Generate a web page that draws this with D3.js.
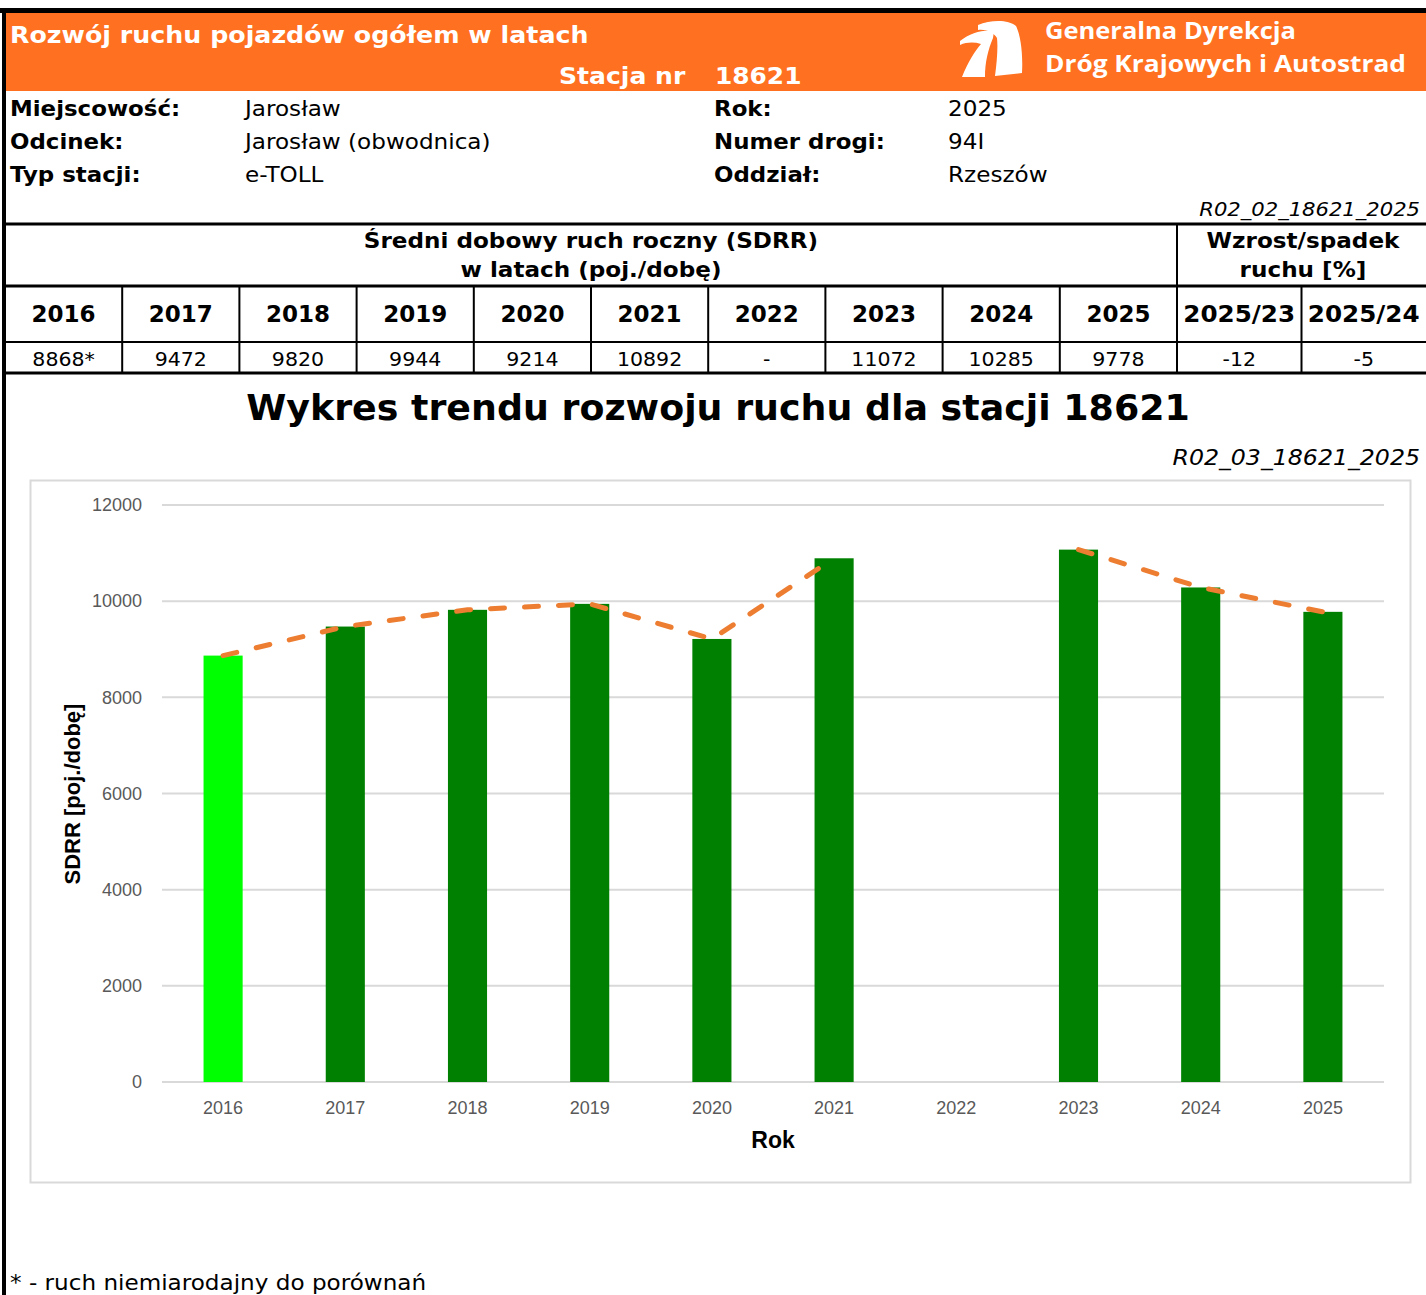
<!DOCTYPE html>
<html lang="pl">
<head>
<meta charset="utf-8">
<title>Rozwój ruchu 18621</title>
<script src="https://d3js.org/d3.v7.min.js"></script>
<style>
  body { margin: 0; background: white; }
  text { font-family: 'DejaVu Sans', Verdana, sans-serif; }
  .hdr { fill: white; font-weight: bold; }
  .logo-txt { font-family: 'Open Sans', 'Noto Sans', sans-serif; font-weight: bold; fill: white; }
  .lbl { font-weight: bold; }
  .ax text { font-family: 'Liberation Sans Narrow', 'Liberation Sans', sans-serif; fill: #595959; }
  .axtitle { font-family: 'Liberation Sans', Arial, sans-serif; font-weight: bold; }
</style>
</head>
<body>
<div id="container"></div>
<script>
// ---- data ----
var years = ["2016", "2017", "2018", "2019", "2020", "2021", "2022", "2023", "2024", "2025"];
var sdrr = [8868, 9472, 9820, 9944, 9214, 10892, null, 11072, 10285, 9778];
var sdrrLabels = ["8868*", "9472", "9820", "9944", "9214", "10892", "-", "11072", "10285", "9778"];
var unreliable = ["2016"];
var changeCols = ["2025/23", "2025/24"];
var changeVals = ["-12", "-5"];
var yTicks = [0, 2000, 4000, 6000, 8000, 10000, 12000];
var infoLeft = [["Miejscowość:", "Jarosław"], ["Odcinek:", "Jarosław (obwodnica)"], ["Typ stacji:", "e-TOLL"]];
var infoRight = [["Rok:", "2025"], ["Numer drogi:", "94I"], ["Oddział:", "Rzeszów"]];

var W = 1426, H = 1295;
var svg = d3.select("#container").append("svg")
  .attr("width", W).attr("height", H);

// DejaVu is a bit narrower than the Verdana of the original, stretch it a little
function widen(sel, f) {
  sel.each(function () {
    var l = this.getComputedTextLength();
    d3.select(this).attr("textLength", l * f).attr("lengthAdjust", "spacingAndGlyphs");
  });
  return sel;
}

// ---------------------------//
//       HEADER               //
// ---------------------------//
svg.append("rect").attr("x", 0).attr("y", 8).attr("width", W).attr("height", 5).attr("fill", "black");
svg.append("rect").attr("x", 5).attr("y", 13).attr("width", W - 5).attr("height", 78).attr("fill", "#FF7020");
svg.append("rect").attr("x", 2).attr("y", 8).attr("width", 4).attr("height", H - 8).attr("fill", "black");

widen(svg.append("text").attr("class", "hdr").attr("x", 10).attr("y", 43)
  .style("font-size", "23px").text("Rozwój ruchu pojazdów ogółem w latach"), 1.1);
widen(svg.append("text").attr("class", "hdr").attr("x", 559).attr("y", 84)
  .style("font-size", "23px").text("Stacja nr"), 1.09);
widen(svg.append("text").attr("class", "hdr").attr("x", 715).attr("y", 84)
  .style("font-size", "23px").text("18621"), 1.08);

// logo
var logo = svg.append("g").attr("fill", "white");
logo.append("path").attr("d", "M960,41 C970,33 984,29 994,31 L993,38 C988,50 985,62 985,77 L962,77 C968,62 975,51 981,44 C974,42 967,42 960,45 Z");
logo.append("path").attr("d", "M978,25 C990,20 1008,19 1016,26 C1021,36 1023,55 1022,73 L995,76 C997,61 998,47 997,38 C993,32 986,29 978,30 Z");
svg.append("text").attr("class", "logo-txt").attr("x", 1045).attr("y", 39)
  .attr("textLength", 251).attr("lengthAdjust", "spacingAndGlyphs")
  .style("font-size", "24px").text("Generalna Dyrekcja");
svg.append("text").attr("class", "logo-txt").attr("x", 1045).attr("y", 72)
  .attr("textLength", 361).attr("lengthAdjust", "spacingAndGlyphs")
  .style("font-size", "24px").text("Dróg Krajowych i Autostrad");

// info rows
infoLeft.forEach(function (r, i) {
  widen(svg.append("text").attr("class", "lbl").attr("x", 10).attr("y", 116 + i * 33).style("font-size", "21px").text(r[0]), 1.09);
  widen(svg.append("text").attr("x", 245).attr("y", 116 + i * 33).style("font-size", "21px").text(r[1]), 1.1);
});
infoRight.forEach(function (r, i) {
  widen(svg.append("text").attr("class", "lbl").attr("x", 714).attr("y", 116 + i * 33).style("font-size", "21px").text(r[0]), 1.09);
  widen(svg.append("text").attr("x", 948).attr("y", 116 + i * 33).style("font-size", "21px").text(r[1]), 1.1);
});
widen(svg.append("text").attr("x", 1420).attr("y", 216).attr("text-anchor", "end")
  .style("font-size", "19px").style("font-style", "italic").text("R02_02_18621_2025"), 1.11);

// ---------------------------//
//       TABLE                //
// ---------------------------//
var colX = d3.scaleBand().domain(years).range([5, 1177]);
var chX = d3.scaleBand().domain(changeCols).range([1177, 1426]);
var tbl = svg.append("g");
[[224, 3], [286, 3], [342, 2], [373, 3]].forEach(function (l) {
  tbl.append("rect").attr("x", 5).attr("y", l[0] - l[1] / 2).attr("width", W - 5).attr("height", l[1]).attr("fill", "black");
});
tbl.append("rect").attr("x", 1176).attr("y", 224).attr("width", 2).attr("height", 149).attr("fill", "black");
years.slice(1).forEach(function (y) {
  tbl.append("rect").attr("x", colX(y) - 1).attr("y", 286).attr("width", 2).attr("height", 87).attr("fill", "black");
});
tbl.append("rect").attr("x", chX("2025/24") - 1).attr("y", 286).attr("width", 2).attr("height", 87).attr("fill", "black");

var heads = [[591, 248, "Średni dobowy ruch roczny (SDRR)"], [591, 277, "w latach (poj./dobę)"],
             [1303, 248, "Wzrost/spadek"], [1303, 277, "ruchu [%]"]];
heads.forEach(function (h) {
  widen(tbl.append("text").attr("class", "lbl").attr("x", h[0]).attr("y", h[1]).attr("text-anchor", "middle")
    .style("font-size", "21px").text(h[2]), 1.1);
});

tbl.selectAll("text.yr").data(years).enter().append("text")
  .attr("class", "lbl yr").attr("text-anchor", "middle")
  .attr("x", function (d) { return colX(d) + colX.bandwidth() / 2; })
  .attr("y", 322).style("font-size", "23px").text(function (d) { return d; });
widen(tbl.selectAll("text.ch").data(changeCols).enter().append("text")
  .attr("class", "lbl ch").attr("text-anchor", "middle")
  .attr("x", function (d) { return chX(d) + chX.bandwidth() / 2; })
  .attr("y", 322).style("font-size", "23px").text(function (d) { return d; }), 1.07);
widen(tbl.selectAll("text.val").data(sdrrLabels).enter().append("text")
  .attr("class", "val").attr("text-anchor", "middle")
  .attr("x", function (d, i) { return colX(years[i]) + colX.bandwidth() / 2; })
  .attr("y", 366).style("font-size", "19px").text(function (d) { return d; }), 1.08);
widen(tbl.selectAll("text.chv").data(changeVals).enter().append("text")
  .attr("class", "chv").attr("text-anchor", "middle")
  .attr("x", function (d, i) { return chX(changeCols[i]) + chX.bandwidth() / 2; })
  .attr("y", 366).style("font-size", "19px").text(function (d) { return d; }), 1.08);

// ---------------------------//
//       CHART                //
// ---------------------------//
widen(svg.append("text").attr("class", "lbl").attr("x", 718).attr("y", 420).attr("text-anchor", "middle")
  .style("font-size", "36px").text("Wykres trendu rozwoju ruchu dla stacji 18621"), 1.01);
widen(svg.append("text").attr("x", 1420).attr("y", 465).attr("text-anchor", "end")
  .style("font-size", "22px").style("font-style", "italic").text("R02_03_18621_2025"), 1.075);

svg.append("rect").attr("x", 30.5).attr("y", 480.5).attr("width", 1380).attr("height", 702)
  .attr("fill", "white").attr("stroke", "#d9d9d9").attr("stroke-width", 2);

var x = d3.scaleBand().domain(years).range([162, 1384]).paddingInner(0.68).paddingOuter(0.34);
var y = d3.scaleLinear().domain([0, 12000]).range([1082, 505]);

// gridlines
svg.append("g").selectAll("line").data(yTicks).enter().append("line")
  .attr("x1", 162).attr("x2", 1384)
  .attr("y1", function (d) { return y(d); }).attr("y2", function (d) { return y(d); })
  .attr("stroke", "#d9d9d9").attr("stroke-width", 2);

var yAxis = svg.append("g").attr("class", "ax").attr("transform", "translate(162,0)")
  .call(d3.axisLeft(y).tickValues(yTicks).tickSize(0).tickPadding(20).tickFormat(d3.format("d")));
yAxis.select(".domain").remove();
yAxis.selectAll("text").style("font-size", "18px");

var xAxis = svg.append("g").attr("class", "ax").attr("transform", "translate(0,1082)")
  .call(d3.axisBottom(x).tickSize(0).tickPadding(19));
xAxis.select(".domain").remove();
xAxis.selectAll("text").style("font-size", "18px");

svg.append("g").selectAll("rect").data(years.filter(function (d, i) { return sdrr[i] != null; }))
  .enter().append("rect")
  .attr("x", function (d) { return x(d); })
  .attr("width", x.bandwidth())
  .attr("y", function (d) { return y(sdrr[years.indexOf(d)]); })
  .attr("height", function (d) { return y(0) - y(sdrr[years.indexOf(d)]); })
  .attr("fill", function (d) { return unreliable.indexOf(d) >= 0 ? "#00FF00" : "#008000"; });

var line = d3.line()
  .defined(function (d) { return d != null; })
  .x(function (d, i) { return x(years[i]) + x.bandwidth() / 2; })
  .y(function (d) { return y(d); });
svg.append("path").datum(sdrr).attr("d", line)
  .attr("fill", "none").attr("stroke", "#ED7D31").attr("stroke-width", 5)
  .attr("stroke-linecap", "round").attr("stroke-dasharray", "14,20");

svg.append("text").attr("class", "axtitle").attr("x", 773).attr("y", 1148).attr("text-anchor", "middle")
  .style("font-size", "23px").text("Rok");
svg.append("text").attr("class", "axtitle")
  .attr("transform", "translate(80,794) rotate(-90)").attr("text-anchor", "middle")
  .style("font-size", "22px").text("SDRR [poj./dobę]");

widen(svg.append("text").attr("x", 10).attr("y", 1290).style("font-size", "21px")
  .text("* - ruch niemiarodajny do porównań"), 1.1);
</script>
</body>
</html>
